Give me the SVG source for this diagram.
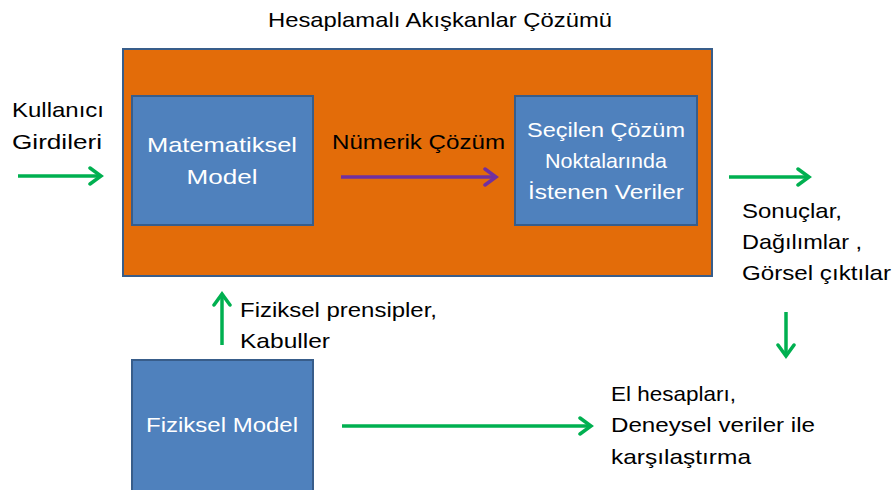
<svg xmlns="http://www.w3.org/2000/svg" width="896" height="490" viewBox="0 0 896 490">
<style>
.t{font-family:"Liberation Sans",Arial,sans-serif;font-size:21px;fill:#000}
.w{fill:#fff;text-anchor:middle}
.box{fill:#4F81BD;stroke:#385D8A;stroke-width:2}
.g{stroke:#00B050;stroke-width:3.5;fill:none}
.p{stroke:#7030A0;stroke-width:3.5;fill:none}
</style>
<defs>
<marker id="ag" markerUnits="userSpaceOnUse" markerWidth="20" markerHeight="20" refX="14" refY="10" orient="auto">
<path d="M3,2 L14,10 L3,18" fill="none" stroke="#00B050" stroke-width="3.5" stroke-linecap="round"/>
</marker>
<marker id="ap" markerUnits="userSpaceOnUse" markerWidth="20" markerHeight="20" refX="14" refY="10" orient="auto">
<path d="M3,2 L14,10 L3,18" fill="none" stroke="#7030A0" stroke-width="3.5" stroke-linecap="round"/>
</marker>
</defs>
<rect width="896" height="490" fill="#fff"/>
<text class="t" x="440" y="27" text-anchor="middle" textLength="344" lengthAdjust="spacingAndGlyphs">Hesaplamalı Akışkanlar Çözümü</text>
<g id="cfd">
<rect x="123" y="49" width="589" height="227" fill="#E36C09" stroke="#385D8A" stroke-width="2"/>
</g>
<g id="mat">
<rect class="box" x="132" y="96" width="181" height="129"/>
<text class="t w" x="222" y="152" textLength="150" lengthAdjust="spacingAndGlyphs">Matematiksel</text>
<text class="t w" x="222" y="184" textLength="71" lengthAdjust="spacingAndGlyphs">Model</text>
</g>
<g id="sec">
<rect class="box" x="515" y="96" width="182" height="129"/>
<text class="t w" x="606" y="137" textLength="158" lengthAdjust="spacingAndGlyphs">Seçilen Çözüm</text>
<text class="t w" x="606" y="168" textLength="122" lengthAdjust="spacingAndGlyphs">Noktalarında</text>
<text class="t w" x="606" y="199" textLength="156" lengthAdjust="spacingAndGlyphs">İstenen Veriler</text>
</g>
<g id="fiz">
<rect class="box" x="132" y="360" width="181" height="140"/>
<text class="t w" x="222" y="432" textLength="152" lengthAdjust="spacingAndGlyphs">Fiziksel Model</text>
</g>
<g id="labels">
<text class="t" x="12" y="117" textLength="92" lengthAdjust="spacingAndGlyphs">Kullanıcı</text>
<text class="t" x="12" y="149" textLength="90" lengthAdjust="spacingAndGlyphs">Girdileri</text>
<text class="t" x="332" y="149" textLength="173" lengthAdjust="spacingAndGlyphs">Nümerik Çözüm</text>
<text class="t" x="742" y="218" textLength="100" lengthAdjust="spacingAndGlyphs">Sonuçlar,</text>
<text class="t" x="742" y="249" textLength="120" lengthAdjust="spacingAndGlyphs">Dağılımlar ,</text>
<text class="t" x="742" y="280" textLength="149" lengthAdjust="spacingAndGlyphs">Görsel çıktılar</text>
<text class="t" x="240" y="317" textLength="197" lengthAdjust="spacingAndGlyphs">Fiziksel prensipler,</text>
<text class="t" x="240" y="348" textLength="90" lengthAdjust="spacingAndGlyphs">Kabuller</text>
<text class="t" x="611" y="401" textLength="125" lengthAdjust="spacingAndGlyphs">El hesapları,</text>
<text class="t" x="611" y="432" textLength="204" lengthAdjust="spacingAndGlyphs">Deneysel veriler ile</text>
<text class="t" x="611" y="464" textLength="140" lengthAdjust="spacingAndGlyphs">karşılaştırma</text>
</g>
<g id="connectors">
<line class="g" x1="18" y1="176" x2="101" y2="176" marker-end="url(#ag)"/>
<line class="p" x1="341" y1="177" x2="496" y2="177" marker-end="url(#ap)"/>
<line class="g" x1="729" y1="177" x2="809" y2="177" marker-end="url(#ag)"/>
<line class="g" x1="786" y1="312" x2="786" y2="356" marker-end="url(#ag)"/>
<line class="g" x1="222" y1="345" x2="222" y2="294" marker-end="url(#ag)"/>
<line class="g" x1="342" y1="426" x2="591" y2="426" marker-end="url(#ag)"/>
</g>
</svg>
